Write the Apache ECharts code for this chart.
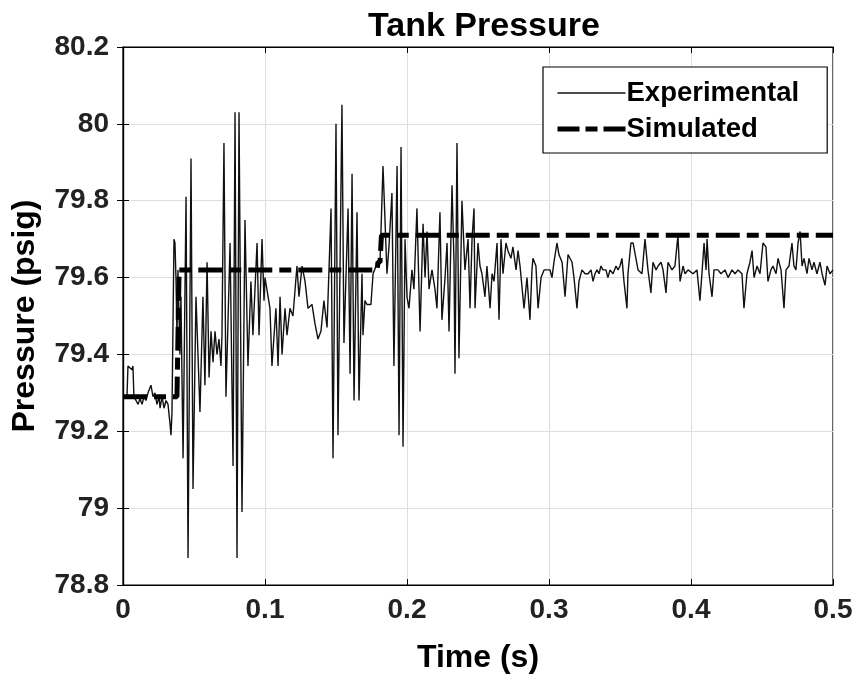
<!DOCTYPE html>
<html>
<head>
<meta charset="utf-8">
<script src="https://cdn.jsdelivr.net/npm/echarts@6/dist/echarts.min.js"></script>
<style>
html,body{margin:0;padding:0;background:#fff;}
#chart{width:858px;height:683px;}
</style>
</head>
<body>
<div id="chart"></div>
<script>
// Experimental signal: time (s) and pressure (psig)
var expTime = [0,0.0014,0.0028,0.0035,0.0049,0.0063,0.0070,0.0077,0.0092,0.0106,0.0120,0.0134,0.0148,0.0162,0.0176,0.0197,0.0211,0.0225,0.0239,0.0254,0.0261,0.0275,0.0289,0.0303,0.0317,0.0331,0.0338,0.0345,0.0359,0.0366,0.0373,0.0380,0.0387,0.0401,0.0408,0.0423,0.0444,0.0458,0.0479,0.0493,0.0514,0.0542,0.0563,0.0577,0.0592,0.0606,0.0620,0.0634,0.0648,0.0662,0.0676,0.0690,0.0697,0.0711,0.0725,0.0739,0.0754,0.0775,0.0789,0.0803,0.0817,0.0838,0.0859,0.0880,0.0901,0.0915,0.0944,0.0958,0.0979,0.0993,0.1000,0.1035,0.1049,0.1077,0.1092,0.1106,0.1120,0.1141,0.1155,0.1176,0.1197,0.1225,0.1239,0.1261,0.1282,0.1303,0.1331,0.1352,0.1373,0.1394,0.1415,0.1437,0.1465,0.1479,0.1500,0.1514,0.1542,0.1556,0.1585,0.1599,0.1613,0.1627,0.1648,0.1662,0.1683,0.1690,0.1704,0.1718,0.1746,0.1761,0.1782,0.1810,0.1831,0.1859,0.1873,0.1894,0.1908,0.1930,0.1944,0.1958,0.1972,0.1986,0.2000,0.2014,0.2035,0.2049,0.2070,0.2092,0.2113,0.2127,0.2141,0.2155,0.2176,0.2197,0.2211,0.2232,0.2246,0.2268,0.2282,0.2296,0.2317,0.2331,0.2338,0.2352,0.2366,0.2387,0.2408,0.2430,0.2444,0.2458,0.2472,0.2479,0.2500,0.2514,0.2528,0.2535,0.2549,0.2563,0.2585,0.2599,0.2613,0.2634,0.2648,0.2662,0.2676,0.2697,0.2711,0.2732,0.2746,0.2768,0.2782,0.2796,0.2810,0.2824,0.2845,0.2866,0.2880,0.2887,0.2908,0.2923,0.2944,0.2965,0.2986,0.3007,0.3021,0.3035,0.3056,0.3070,0.3092,0.3113,0.3134,0.3162,0.3176,0.3197,0.3211,0.3232,0.3254,0.3275,0.3296,0.3310,0.3324,0.3338,0.3352,0.3366,0.3380,0.3401,0.3415,0.3430,0.3451,0.3472,0.3486,0.3500,0.3514,0.3528,0.3549,0.3556,0.3577,0.3592,0.3606,0.3627,0.3641,0.3655,0.3676,0.3697,0.3718,0.3732,0.3754,0.3768,0.3789,0.3803,0.3824,0.3838,0.3852,0.3866,0.3887,0.3908,0.3923,0.3944,0.3958,0.3979,0.3993,0.4014,0.4042,0.4063,0.4077,0.4092,0.4106,0.4113,0.4127,0.4148,0.4162,0.4190,0.4211,0.4239,0.4261,0.4289,0.4310,0.4331,0.4359,0.4373,0.4394,0.4415,0.4430,0.4444,0.4465,0.4486,0.4507,0.4528,0.4542,0.4563,0.4577,0.4599,0.4613,0.4634,0.4655,0.4669,0.4690,0.4711,0.4725,0.4739,0.4754,0.4768,0.4782,0.4796,0.4817,0.4831,0.4852,0.4866,0.4887,0.4908,0.4923,0.4944,0.4958,0.4979,0.5000];
var expPressure = [79.29,79.295,79.29,79.37,79.375,79.36,79.37,79.29,79.28,79.27,79.285,79.27,79.29,79.28,79.30,79.32,79.29,79.30,79.27,79.29,79.26,79.29,79.26,79.28,79.27,79.22,79.19,79.25,79.70,79.69,79.60,79.45,79.62,79.40,79.55,79.13,79.81,78.87,79.91,79.05,79.55,79.25,79.55,79.32,79.64,79.34,79.46,79.38,79.46,79.40,79.44,79.37,79.45,79.95,79.29,79.48,79.69,79.11,80.03,78.87,80.03,78.99,79.75,79.37,79.59,79.45,79.69,79.45,79.70,79.54,79.60,79.52,79.37,79.52,79.37,79.55,79.40,79.52,79.45,79.52,79.50,79.63,79.55,79.63,79.59,79.52,79.53,79.48,79.44,79.46,79.54,79.47,79.78,79.13,80.00,79.19,80.05,79.43,79.78,79.35,79.87,79.28,79.77,79.28,79.61,79.45,79.54,79.53,79.53,79.61,79.63,79.64,79.89,79.61,79.68,79.82,79.37,79.89,79.19,79.94,79.16,79.70,79.55,79.52,79.62,79.57,79.78,79.46,79.74,79.60,79.72,79.57,79.62,79.57,79.52,79.77,79.49,79.60,79.69,79.46,79.84,79.64,79.35,79.95,79.39,79.80,79.62,79.70,79.52,79.70,79.78,79.52,79.69,79.63,79.61,79.59,79.55,79.63,79.52,79.61,79.59,79.69,79.49,79.70,79.61,79.69,79.67,79.65,79.68,79.62,79.67,79.63,79.63,79.52,79.60,79.49,79.62,79.65,79.63,79.52,79.60,79.62,79.62,79.62,79.60,79.64,79.69,79.66,79.64,79.55,79.66,79.64,79.60,79.52,79.59,79.62,79.61,79.61,79.62,79.59,79.61,79.62,79.61,79.63,79.62,79.62,79.60,79.62,79.61,79.63,79.62,79.63,79.65,79.59,79.52,79.61,79.69,79.69,79.69,79.62,79.62,79.61,79.70,79.62,79.56,79.64,79.62,79.63,79.64,79.62,79.56,79.64,79.63,79.62,79.63,79.71,79.59,79.63,79.61,79.62,79.62,79.61,79.62,79.54,79.61,79.69,79.62,79.70,79.61,79.55,79.62,79.62,79.61,79.62,79.60,79.62,79.61,79.62,79.61,79.52,79.61,79.64,79.67,79.60,79.63,79.61,79.69,79.68,79.59,79.62,79.63,79.61,79.65,79.62,79.52,79.62,79.63,79.69,79.63,79.62,79.69,79.72,79.63,79.65,79.61,79.65,79.62,79.64,79.61,79.64,79.61,79.58,79.63,79.61,79.62];

// Simulated step response
var simTime = [0, 0.038, 0.0395, 0.179, 0.1795, 0.181, 0.182, 0.5];
var simPressure = [79.29, 79.29, 79.62, 79.62, 79.64, 79.64, 79.71, 79.71];

var xTicks = ['0', '0.1', '0.2', '0.3', '0.4', '0.5'];
var yTicks = ['78.8', '79', '79.2', '79.4', '79.6', '79.8', '80', '80.2'];
var seriesNames = ['Experimental', 'Simulated'];

function zip(a, b) { var r = []; for (var i = 0; i < a.length; i++) r.push([a[i], b[i]]); return r; }

var FONT = '"Liberation Sans", Arial, Helvetica, sans-serif';
var chart = echarts.init(document.getElementById('chart'), null, {renderer: 'canvas'});

var tickFmtX = function (v) { var i = Math.round(v / 0.1); return xTicks[i] !== undefined ? xTicks[i] : ''; };
var tickFmtY = function (v) { var i = Math.round((v - 78.8) / 0.2); return yTicks[i] !== undefined ? yTicks[i] : ''; };

var option = {
  backgroundColor: '#fff',
  animation: false,
  title: {
    text: 'Tank Pressure',
    left: 479, top: 5, textAlign: 'center',
    textStyle: {fontFamily: FONT, fontWeight: 'bold', fontSize: 34, color: '#000'}
  },
  grid: {left: 123, right: 25, top: 47, bottom: 98, show: true, borderColor: '#000', borderWidth: 1.2, backgroundColor: 'transparent'},
  legend: {
    orient: 'vertical', left: 543, top: 67,
    backgroundColor: '#fff', borderColor: '#000', borderWidth: 1.2, borderRadius: 0,
    padding: [12, 28, 10, 12], itemGap: 8, itemWidth: 68, itemHeight: 14,
    itemStyle: {opacity: 0},
    textStyle: {fontFamily: FONT, fontWeight: 'bold', fontSize: 27.5, color: '#000', padding: [0, 0, 0, -4]},
    data: [
      {name: seriesNames[0], lineStyle: {width: 1.4, color: '#111', type: 'solid'}},
      {name: seriesNames[1], lineStyle: {width: 5, color: '#000', type: [22, 6, 12, 6]}}
    ]
  },
  xAxis: [{
    type: 'value', min: 0, max: 0.5, interval: 0.1,
    name: 'Time (s)', nameLocation: 'middle', nameGap: 57,
    nameTextStyle: {fontFamily: FONT, fontWeight: 'bold', fontSize: 32, color: '#000'},
    axisLine: {show: true, lineStyle: {color: '#000', width: 1.2}},
    axisTick: {show: true, inside: true, length: 6, lineStyle: {color: '#000'}},
    axisLabel: {formatter: tickFmtX, margin: 11, fontFamily: FONT, fontWeight: 'bold', fontSize: 28, color: '#222'},
    splitLine: {show: true, lineStyle: {color: '#dedede', width: 1}}
  }, {
    type: 'value', min: 0, max: 0.5, interval: 0.1, position: 'top',
    axisLine: {show: true, lineStyle: {color: '#000', width: 1.2}},
    axisTick: {show: true, inside: true, length: 6, lineStyle: {color: '#000'}},
    axisLabel: {show: false}, splitLine: {show: false}
  }],
  yAxis: [{
    type: 'value', min: 78.8, max: 80.2, interval: 0.2,
    name: 'Pressure (psig)', nameLocation: 'middle', nameGap: 82,
    nameTextStyle: {fontFamily: FONT, fontWeight: 'bold', fontSize: 32, color: '#000'},
    axisLine: {show: true, lineStyle: {color: '#000', width: 1.2}},
    axisTick: {show: true, inside: true, length: 6, lineStyle: {color: '#000'}},
    axisLabel: {formatter: tickFmtY, margin: 14, fontFamily: FONT, fontWeight: 'bold', fontSize: 28, color: '#222'},
    splitLine: {show: true, lineStyle: {color: '#dedede', width: 1}}
  }, {
    type: 'value', min: 78.8, max: 80.2, interval: 0.2, position: 'right',
    axisLine: {show: true, lineStyle: {color: '#000', width: 1.2}},
    axisTick: {show: true, inside: true, length: 6, lineStyle: {color: '#000'}},
    axisLabel: {show: false}, splitLine: {show: false}
  }],
  series: [{
    name: seriesNames[0], type: 'line', data: zip(expTime, expPressure),
    showSymbol: false, symbol: 'none', smooth: false,
    lineStyle: {color: '#111', width: 1.4}, itemStyle: {color: '#111'}
  }, {
    name: seriesNames[1], type: 'line', data: zip(simTime, simPressure),
    showSymbol: false, symbol: 'none',
    lineStyle: {color: '#000', width: 5, type: [24, 7, 12, 7], cap: 'butt'}, itemStyle: {color: '#000'}
  }]
};
chart.setOption(option);
</script>
</body>
</html>
